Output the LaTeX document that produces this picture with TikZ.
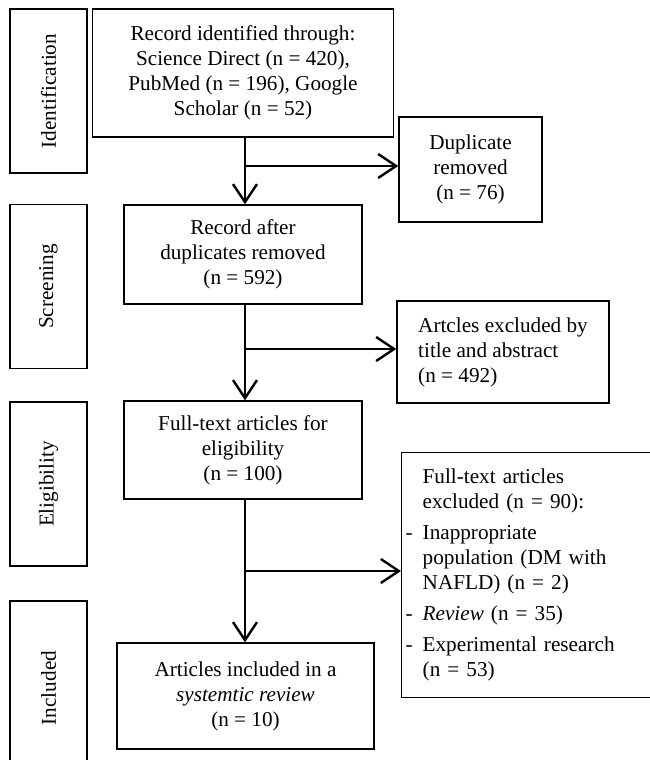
\documentclass[tikz,border=0pt]{standalone}
\usepackage{fontspec}
\setmainfont{Liberation Serif}
\usetikzlibrary{arrows.meta}

\begin{document}
\begin{tikzpicture}[x=0.5pt, y=-0.5pt,
  font=\fontsize{10.6}{12.5}\selectfont,
  box/.style={draw, line width=0.7pt, align=center, inner sep=2pt},
  stage/.style={box, rotate=90, minimum width=82pt, minimum height=38.5pt},
  flow/.style={line width=1.2pt, -{Straight Barb[length=9pt, width=12pt]}}]

  % Fix the page to the size of the figure
  \useasboundingbox (0,0) rectangle (649,760);

  % Stage labels on the left
  \node[stage] (ident) at (48.5,91) {Identification};
  \node[stage] (screen) at (48.5,286.5) {Screening};
  \node[stage] (elig) at (48.5,484) {Eligibility};
  \node[stage, minimum width=87pt] (incl) at (48.5,688) {Included};

  % Main flow boxes
  \node[box, minimum width=150.5pt, minimum height=64pt] (rec) at (243,73)
    {Record identified through:\\ Science Direct (n = 420),\\ PubMed (n = 196), Google\\ Scholar (n = 52)};
  \node[box, minimum width=119pt, minimum height=49.5pt] (after) at (243,254.5)
    {Record after\\ duplicates removed\\ (n = 592)};
  \node[box, minimum width=119pt, minimum height=49pt] (full) at (243,450)
    {Full-text articles for\\ eligibility\\ (n = 100)};
  \node[box, minimum width=128.5pt, minimum height=53pt] (final) at (245.5,696)
    {Articles included in a\\ \textit{systemtic review}\\ (n = 10)};

  % Exclusion boxes on the right
  \node[box, minimum width=71.5pt, minimum height=52.5pt] (dup) at (470.5,169.5)
    {Duplicate\\ removed\\ (n = 76)};
  \node[box, align=left, minimum width=106pt, minimum height=51pt] (title) at (503,352)
    {Artcles excluded by\\ title and abstract\\ (n = 492)};
  \node[box, anchor=north west, align=left, text width=115pt, inner xsep=10.5pt,
        minimum height=122.5pt] (fulltext) at (401,452)
    {\begin{tabular}{@{}l@{}}
     Full-text articles\\
     excluded (n = 90):\\[3pt]
     \llap{-\hspace{5pt}}Inappropriate\\
     population (DM with\\
     NAFLD) (n = 2)\\[3pt]
     \llap{-\hspace{5pt}}\textit{Review} (n = 35)\\[3pt]
     \llap{-\hspace{5pt}}Experimental research\\
     (n = 53)
     \end{tabular}};

  % Vertical flow
  \draw[flow] (rec.south -| 245,0) -- (after.north -| 245,0);
  \draw[flow] (after.south -| 245,0) -- (full.north -| 245,0);
  \draw[flow] (full.south -| 245,0) -- (final.north -| 245,0);

  % Side branches
  \coordinate (b1) at (245,166);
  \coordinate (b2) at (245,349);
  \coordinate (b3) at (245,571);
  \draw[flow] (b1) -- (b1 -| dup.west);
  \draw[flow] (b2) -- (b2 -| title.west);
  \draw[flow] (b3) -- (b3 -| fulltext.west);

\end{tikzpicture}
\end{document}
